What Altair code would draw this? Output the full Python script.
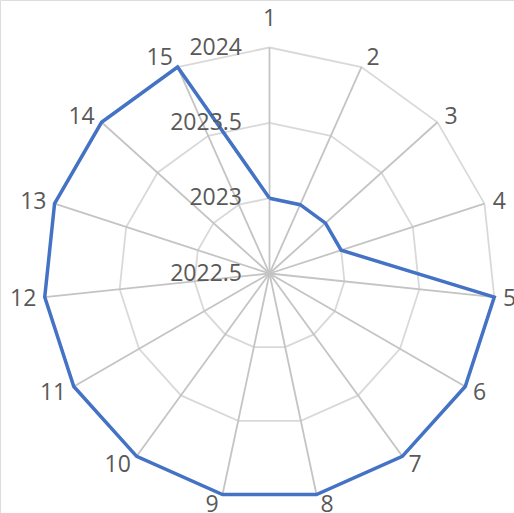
import numpy as np
import pandas as pd
import altair as alt

categories = [str(i) for i in range(1, 16)]
values = [2023, 2023, 2023, 2023, 2024, 2024, 2024, 2024, 2024, 2024,
          2024, 2024, 2024, 2024, 2024]
tick_values = [2022.5, 2023, 2023.5, 2024]
tick_labels = ["2022.5", "2023", "2023.5", "2024"]
axis_min, axis_max = 2022.5, 2024

W, H = 514, 513
CX, CY, R = 269.5, 273.5, 226
FS = 23

n = len(categories)
theta = np.arange(n) * 2 * np.pi / n


def norm(v):
    return (np.asarray(v, dtype=float) - axis_min) / (axis_max - axis_min)


# series line (closed)
u = norm(values)
series = pd.DataFrame({
    "x": u * np.sin(theta), "y": u * np.cos(theta),
    "order": np.arange(n), "cat": categories,
})
series = pd.concat([series, series.iloc[[0]].assign(order=n)], ignore_index=True)

# grid rings
ring_rows = []
for t in tick_values[1:]:
    ut = norm(t)
    for k in range(n + 1):
        th = theta[k % n]
        ring_rows.append({"ring": str(t), "order": k,
                          "x": ut * np.sin(th), "y": ut * np.cos(th)})
rings = pd.DataFrame(ring_rows)

# spokes
spokes = pd.DataFrame({"x": 0.0, "y": 0.0,
                       "x2": np.sin(theta), "y2": np.cos(theta)})

# category labels: placed just outside the outer vertex (pixel offsets -> units)
s, c = np.sin(theta), np.cos(theta)
s = np.where(np.abs(s) < 1e-9, 0.0, s)
half_w = np.array([len(t) for t in categories]) * 6.25
off_x = np.sign(s) * (half_w + 3 + 6 * np.abs(s))
off_y = c * 10 + 20 * np.clip(c, 0, None) ** 40 - 1
cat_lab = pd.DataFrame({"x": s + off_x / R, "y": c + off_y / R, "label": categories})

# tick labels
tick_df = pd.DataFrame({"x": -27.5 / R, "y": norm(tick_values), "label": tick_labels})

xs = alt.Scale(domain=[-CX / R, (W - CX) / R], nice=False, zero=False)
ys = alt.Scale(domain=[-(H - CY) / R, CY / R], nice=False, zero=False)
X = lambda f="x": alt.X(f"{f}:Q", scale=xs, axis=None)
Y = lambda f="y": alt.Y(f"{f}:Q", scale=ys, axis=None)

ring_layer = alt.Chart(rings).mark_line(color="#d9d9d9", strokeWidth=1.8).encode(
    x=X(), y=Y(), detail="ring:N", order="order:Q")
spoke_layer = alt.Chart(spokes).mark_rule(color="#c4c4c4", strokeWidth=1.8).encode(
    x=X(), y=Y(), x2="x2:Q", y2="y2:Q")
line_layer = alt.Chart(series).mark_line(color="#4472C4", strokeWidth=3.5,
                                         strokeJoin="miter").encode(
    x=X(), y=Y(), order="order:Q")
cat_layer = alt.Chart(cat_lab).mark_text(font="Open Sans", fontSize=FS,
                                         color="#595959", align="center",
                                         baseline="middle").encode(
    x=X(), y=Y(), text="label:N")
tick_layer = alt.Chart(tick_df).mark_text(font="Open Sans", fontSize=FS,
                                          color="#595959", align="right",
                                          baseline="middle").encode(
    x=X(), y=Y(), text="label:N")

chart = alt.layer(ring_layer, spoke_layer, line_layer, tick_layer, cat_layer).properties(
    width=W, height=H, padding=0, autosize=alt.AutoSizeParams(type="none")
).configure_view(stroke=None).configure(background="white")

chart.save("out.html", embed_options={"renderer": "svg", "actions": False})
